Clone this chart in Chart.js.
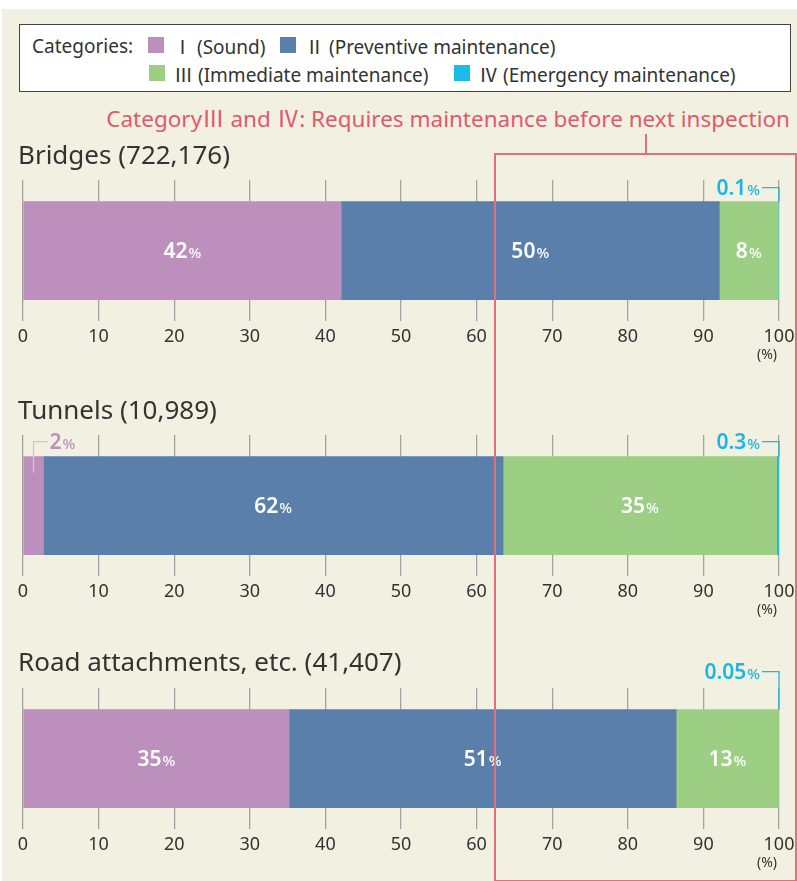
<!DOCTYPE html>
<html>
<head>
<meta charset="utf-8">
<script src="https://cdn.jsdelivr.net/npm/chart.js@4.4.0/dist/chart.umd.min.js"></script>
<style>
html, body { margin: 0; padding: 0; background: #fff; }
body { font-family: "Noto Sans", "Noto Sans CJK JP", sans-serif; color: #333; }
#wrap { position: relative; width: 797px; height: 881px; overflow: hidden; }
#panel { position: absolute; left: 2px; top: 9px; width: 795px; height: 872px; background: #f2f0e1; }
#legend { position: absolute; left: 19px; top: 24px; width: 770px; height: 66px; border: 1.5px solid #444; background: #fff; }
.lg { position: absolute; font-size: 19px; line-height: 24px; white-space: nowrap; color: #333; }
.rn { font-family: "Noto Sans CJK JP", sans-serif; }
.sw { position: absolute; width: 16px; height: 16px; }
.title { position: absolute; left: 18px; font-size: 26px; line-height: 30px; color: #333; white-space: nowrap; z-index: 3; }
.pct { position: absolute; left: 757px; font-size: 14px; line-height: 16px; color: #333; z-index: 3; }
canvas { position: absolute; left: 0; z-index: 2; }
#note { position: absolute; right: 7px; top: 103px; font-size: 22.5px; line-height: 28px; color: #e05a6c; white-space: nowrap; }
#noteLine { position: absolute; left: 645px; top: 134px; width: 2px; height: 19px; background: #e0707e; }
#redBox { position: absolute; left: 494px; top: 153px; width: 299px; height: 725px; border: 2px solid #e0707e; z-index: 4; }
</style>
</head>
<body>
<div id="wrap">
  <div id="panel"></div>
  <div id="legend"></div>
  <div id="note">Category<span class="rn">Ⅲ</span> and <span class="rn">Ⅳ</span>: Requires maintenance before next inspection</div>
  <div id="noteLine"></div>
  <div class="title" style="top:139px">Bridges (722,176)</div>
  <div class="title" style="top:394px">Tunnels (10,989)</div>
  <div class="title" style="top:646px">Road attachments, etc. (41,407)</div>
  <div class="pct" style="top:346px">(%)</div>
  <div class="pct" style="top:601px">(%)</div>
  <div class="pct" style="top:854px">(%)</div>
  <canvas id="c1" width="820" height="220" style="top:150px"></canvas>
  <canvas id="c2" width="820" height="220" style="top:405px"></canvas>
  <canvas id="c3" width="820" height="220" style="top:658px"></canvas>
  <div id="redBox"></div>
</div>
<script>
// data
const numerals = ['Ⅰ', 'Ⅱ', 'Ⅲ', 'Ⅳ'];
const categories = ['(Sound)', '(Preventive maintenance)', '(Immediate maintenance)', '(Emergency maintenance)'];
const bridgeValues = [42.1, 50, 7.8, 0.1];
const tunnelValues = [2.7, 60.8, 36.2, 0.3];
const roadValues = [35.2, 51.2, 13.55, 0.05];
const bridgeLabels = ['42', '50', '8', '0.1'];
const tunnelLabels = ['2', '62', '35', '0.3'];
const roadLabels = ['35', '51', '13', '0.05'];
const xTicks = [0, 10, 20, 30, 40, 50, 60, 70, 80, 90, 100];

const colors = ['#bd8fbd', '#5a7fab', '#9ccf84', '#1cbcea'];
const textColors = ['#bd8fbd', '#5a7fab', '#9ccf84', '#1ab6e6'];
const FONT = '"Noto Sans", "Noto Sans CJK JP", sans-serif';

// legend, laid out like the printed one
var legend = document.getElementById('legend');
var lgPos = [[128, 12], [260, 12], [129, 40], [434, 40]];
var head = document.createElement('div');
head.className = 'lg';
head.style.left = '12px';
head.style.top = '9px';
head.textContent = 'Categories:';
legend.appendChild(head);
for (var i = 0; i < categories.length; i++) {
    var sw = document.createElement('div');
    sw.className = 'sw';
    sw.style.left = lgPos[i][0] + 'px';
    sw.style.top = lgPos[i][1] + 'px';
    sw.style.background = colors[i];
    legend.appendChild(sw);
    var t = document.createElement('div');
    t.className = 'lg';
    t.style.left = (lgPos[i][0] + 25) + 'px';
    t.style.top = (lgPos[i][1] - 3) + 'px';
    t.innerHTML = '<span class="rn">' + numerals[i] + '</span> ' + categories[i];
    legend.appendChild(t);
}

function drawPct(ctx, num, x, y, align, color, big, small) {
    ctx.font = '600 ' + big + 'px ' + FONT;
    var w1 = ctx.measureText(num).width;
    ctx.font = '500 ' + small + 'px ' + FONT;
    var w2 = ctx.measureText('%').width;
    var total = w1 + w2 + 1;
    var left = align === 'center' ? x - total / 2 : (align === 'right' ? x - total : x);
    ctx.fillStyle = color;
    ctx.textAlign = 'left';
    ctx.textBaseline = 'alphabetic';
    ctx.font = '600 ' + big + 'px ' + FONT;
    ctx.fillText(num, left, y + big * 0.36);
    ctx.font = '500 ' + small + 'px ' + FONT;
    ctx.fillText('%', left + w1 + 1, y + big * 0.36);
}

// labels inside the segments, and the small ones pulled out with a leader line
const segLabels = {
    id: 'segLabels',
    afterDatasetsDraw(chart, args, opts) {
        var ctx = chart.ctx;
        ctx.save();
        chart.data.datasets.forEach(function (ds, i) {
            var bar = chart.getDatasetMeta(i).data[0];
            var top = bar.y - bar.height / 2;
            var co = opts.callouts.find(function (c) { return c.idx === i; });
            if (!co) {
                drawPct(ctx, opts.labels[i], (bar.base + bar.x) / 2, bar.y, 'center', '#fff', 21, 15);
                return;
            }
            var ty = top + co.dy;
            ctx.lineWidth = 1.3;
            if (co.side === 'right') {
                var x0 = bar.x;
                ctx.strokeStyle = textColors[i];
                ctx.beginPath();
                ctx.moveTo(x0, top);
                ctx.lineTo(x0, ty);
                ctx.lineTo(x0 - 17, ty);
                ctx.stroke();
                drawPct(ctx, opts.labels[i], x0 - 19, ty, 'right', textColors[i], 21, 15);
            } else {
                var xm = (bar.base + bar.x) / 2;
                ctx.strokeStyle = '#dcbcdc';
                ctx.beginPath();
                ctx.moveTo(xm, top + 16);
                ctx.lineTo(xm, ty);
                ctx.lineTo(xm + 14, ty);
                ctx.stroke();
                drawPct(ctx, opts.labels[i], xm + 16, ty, 'left', textColors[i], 21, 15);
            }
        });
        ctx.restore();
    }
};

function makeChart(id, name, values, labels, callouts) {
    return new Chart(document.getElementById(id), {
        type: 'bar',
        data: {
            labels: [name],
            datasets: categories.map(function (c, i) {
                return { label: numerals[i] + ' ' + c, data: [values[i]], backgroundColor: colors[i], barThickness: 98, borderWidth: 0 };
            })
        },
        options: {
            indexAxis: 'y',
            responsive: false,
            animation: false,
            devicePixelRatio: 1,
            layout: { padding: { left: 23, right: 41, top: 30, bottom: 17 } },
            plugins: {
                legend: { display: false },
                tooltip: { enabled: false },
                segLabels: { labels: labels, callouts: callouts }
            },
            scales: {
                x: {
                    stacked: true,
                    min: 0,
                    max: 100,
                    afterBuildTicks: function (s) { s.ticks = xTicks.map(function (v) { return { value: v }; }); },
                    grid: { color: '#a3a3a3', lineWidth: 1.3, drawTicks: false },
                    border: { display: false },
                    ticks: { color: '#333', padding: 5, font: { family: FONT, size: 18 } }
                },
                y: { stacked: true, display: false }
            }
        },
        plugins: [segLabels]
    });
}

makeChart('c1', 'Bridges', bridgeValues, bridgeLabels, [{ idx: 3, side: 'right', dy: -14 }]);
makeChart('c2', 'Tunnels', tunnelValues, tunnelLabels,
    [{ idx: 0, side: 'left', dy: -15 }, { idx: 3, side: 'right', dy: -15 }]);
makeChart('c3', 'Road attachments, etc.', roadValues, roadLabels, [{ idx: 3, side: 'right', dy: -38 }]);
</script>
</body>
</html>
